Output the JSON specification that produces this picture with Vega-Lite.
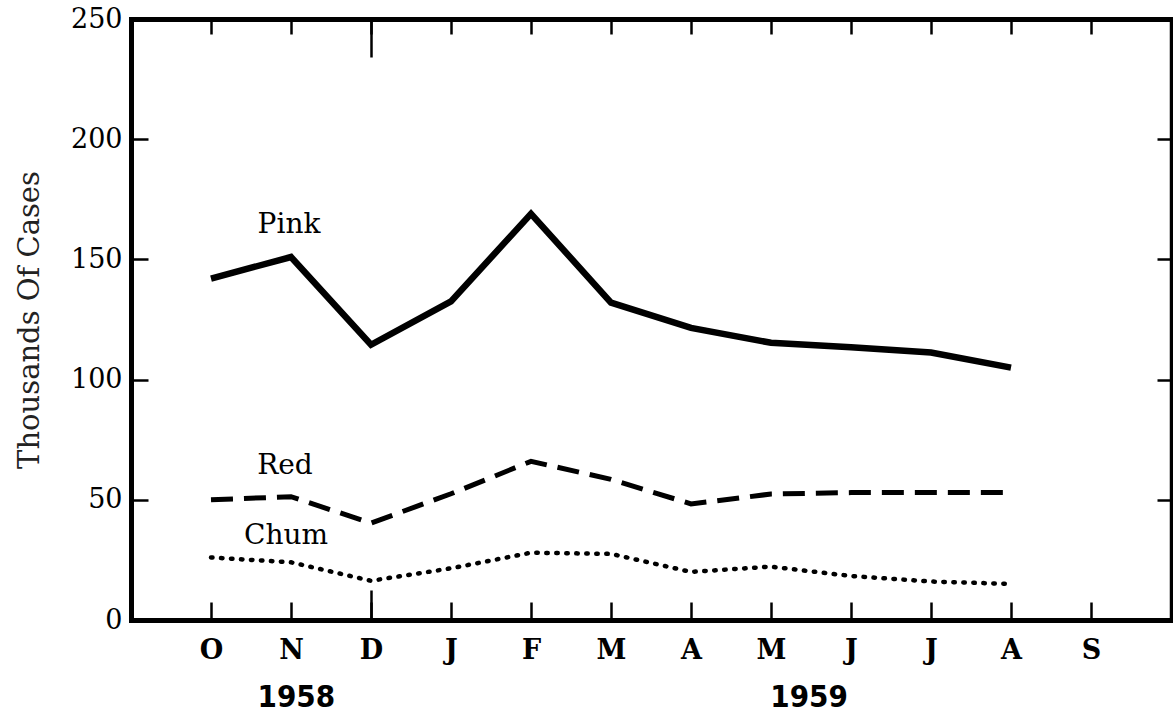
{
  "$schema": "https://vega.github.io/schema/vega-lite/v6.json",
  "width": 1040,
  "height": 601,
  "autosize": {"type": "none"},
  "padding": {"left": 131, "top": 19, "right": 2, "bottom": 106},
  "background": "white",
  "config": {
    "view": {"stroke": null},
    "axis": {"domainColor": "black", "tickColor": "black", "labelColor": "black", "titleColor": "#222", "grid": false, "domainCap": "square", "titleFont": "DejaVu Serif", "titleFontWeight": "normal"}
  },
  "data": {"values": [
    {"m": "O", "i": 0, "species": "Pink", "cases": 142},
    {"m": "N", "i": 1, "species": "Pink", "cases": 151},
    {"m": "D", "i": 2, "species": "Pink", "cases": 114.5},
    {"m": "J", "i": 3, "species": "Pink", "cases": 132.5},
    {"m": "F", "i": 4, "species": "Pink", "cases": 169},
    {"m": "M", "i": 5, "species": "Pink", "cases": 132},
    {"m": "A", "i": 6, "species": "Pink", "cases": 121.5},
    {"m": "M", "i": 7, "species": "Pink", "cases": 115.3},
    {"m": "J", "i": 8, "species": "Pink", "cases": 113.5},
    {"m": "J", "i": 9, "species": "Pink", "cases": 111.3},
    {"m": "A", "i": 10, "species": "Pink", "cases": 105},
    {"m": "O", "i": 0, "species": "Red", "cases": 50},
    {"m": "N", "i": 1, "species": "Red", "cases": 51.3},
    {"m": "D", "i": 2, "species": "Red", "cases": 40.3},
    {"m": "J", "i": 3, "species": "Red", "cases": 52.5},
    {"m": "F", "i": 4, "species": "Red", "cases": 66},
    {"m": "M", "i": 5, "species": "Red", "cases": 58.5},
    {"m": "A", "i": 6, "species": "Red", "cases": 48.3},
    {"m": "M", "i": 7, "species": "Red", "cases": 52.4},
    {"m": "J", "i": 8, "species": "Red", "cases": 53},
    {"m": "J", "i": 9, "species": "Red", "cases": 53},
    {"m": "A", "i": 10, "species": "Red", "cases": 53},
    {"m": "O", "i": 0, "species": "Chum", "cases": 26},
    {"m": "N", "i": 1, "species": "Chum", "cases": 24},
    {"m": "D", "i": 2, "species": "Chum", "cases": 16.3},
    {"m": "J", "i": 3, "species": "Chum", "cases": 21.5},
    {"m": "F", "i": 4, "species": "Chum", "cases": 28},
    {"m": "M", "i": 5, "species": "Chum", "cases": 27.5},
    {"m": "A", "i": 6, "species": "Chum", "cases": 20},
    {"m": "M", "i": 7, "species": "Chum", "cases": 22.2},
    {"m": "J", "i": 8, "species": "Chum", "cases": 18.3},
    {"m": "J", "i": 9, "species": "Chum", "cases": 16},
    {"m": "A", "i": 10, "species": "Chum", "cases": 15}
  ]},
  "resolve": {"axis": {"x": "independent", "y": "independent"}},
  "layer": [
    {
      "transform": [{"filter": "datum.species === 'Pink'"}],
      "mark": {"type": "line", "color": "black", "strokeWidth": 6.5, "strokeJoin": "miter"},
      "encoding": {
        "x": {"field": "i", "type": "quantitative", "scale": {"domain": [-1, 12], "nice": false, "zero": false},
          "axis": {"orient": "bottom", "values": [0,1,2,3,4,5,6,7,8,9,10,11], "labelExpr": "['O','N','D','J','F','M','A','M','J','J','A','S'][datum.value]",
            "title": null, "domainWidth": 5, "tickSize": -18, "tickWidth": 2.5, "labelPadding": 35, "labelFont": "DejaVu Serif", "labelFontWeight": "bold", "labelFontSize": 27, "labelFlush": false, "labelOverlap": false}},
        "y": {"field": "cases", "type": "quantitative", "scale": {"domain": [0, 250], "nice": false, "zero": true},
          "axis": {"orient": "left", "values": [0,50,100,150,200,250], "title": "Thousands Of Cases", "titleFont": "DejaVu Serif", "titleFontSize": 29, "titleFontWeight": "normal", "titlePadding": 26,
            "domainWidth": 5, "tickSize": -17, "tickWidth": 2.5, "labelPadding": 26, "labelFont": "DejaVu Serif", "labelFontSize": 27, "labelFlush": false, "labelOverlap": false}}
      }
    },
    {
      "transform": [{"filter": "datum.species === 'Red'"}],
      "mark": {"type": "line", "color": "black", "strokeWidth": 5, "strokeDash": [22, 11]},
      "encoding": {
        "x": {"field": "i", "type": "quantitative",
          "axis": {"orient": "top", "values": [0,1,2,3,4,5,6,7,8,9,10,11], "labels": false, "title": null, "domainWidth": 5, "tickSize": -15, "tickWidth": 2.5}},
        "y": {"field": "cases", "type": "quantitative",
          "axis": {"orient": "right", "values": [50,100,150,200], "labels": false, "title": null, "domainWidth": 3.5, "tickSize": -14, "tickWidth": 2.5}}
      }
    },
    {
      "transform": [{"filter": "datum.species === 'Chum'"}],
      "mark": {"type": "line", "color": "black", "strokeWidth": 4.5, "strokeDash": [1.5, 8.5], "strokeCap": "round"},
      "encoding": {
        "x": {"field": "i", "type": "quantitative",
          "axis": {"orient": "bottom", "values": [2], "labels": false, "title": null, "domain": false, "tickSize": -30, "tickWidth": 2.5}},
        "y": {"field": "cases", "type": "quantitative", "axis": null}
      }
    },
    {
      "transform": [{"filter": "datum.species === 'Pink' && datum.i === 1"}],
      "mark": {"type": "text", "font": "DejaVu Serif", "fontSize": 28, "color": "black", "align": "center", "baseline": "middle", "dx": -2, "dy": -32},
      "encoding": {
        "x": {"field": "i", "type": "quantitative",
          "axis": {"orient": "top", "values": [2], "labels": false, "title": null, "domain": false, "tickSize": -38, "tickWidth": 2.5}},
        "y": {"field": "cases", "type": "quantitative", "axis": null},
        "text": {"field": "species"}
      }
    },
    {
      "transform": [{"filter": "datum.species === 'Red' && datum.i === 1"}],
      "mark": {"type": "text", "font": "DejaVu Serif", "fontSize": 28, "color": "black", "align": "center", "baseline": "middle", "dx": -6, "dy": -31},
      "encoding": {
        "x": {"field": "i", "type": "quantitative",
          "axis": {"orient": "bottom", "values": [1.06, 7.47], "labelExpr": "datum.value < 4 ? '1958' : '1959'", "title": null, "domain": false, "ticks": false, "labelPadding": 62,
            "labelFont": "DejaVu Sans Condensed, Liberation Sans Narrow, DejaVu Sans", "labelFontWeight": "bold", "labelFontSize": 31, "labelFlush": false, "labelOverlap": false}},
        "y": {"field": "cases", "type": "quantitative", "axis": null},
        "text": {"field": "species"}
      }
    },
    {
      "transform": [{"filter": "datum.species === 'Chum' && datum.i === 1"}],
      "mark": {"type": "text", "font": "DejaVu Serif", "fontSize": 28, "color": "black", "align": "center", "baseline": "middle", "dx": -5, "dy": -26},
      "encoding": {
        "x": {"field": "i", "type": "quantitative", "axis": null},
        "y": {"field": "cases", "type": "quantitative", "axis": null},
        "text": {"field": "species"}
      }
    }
  ]
}
